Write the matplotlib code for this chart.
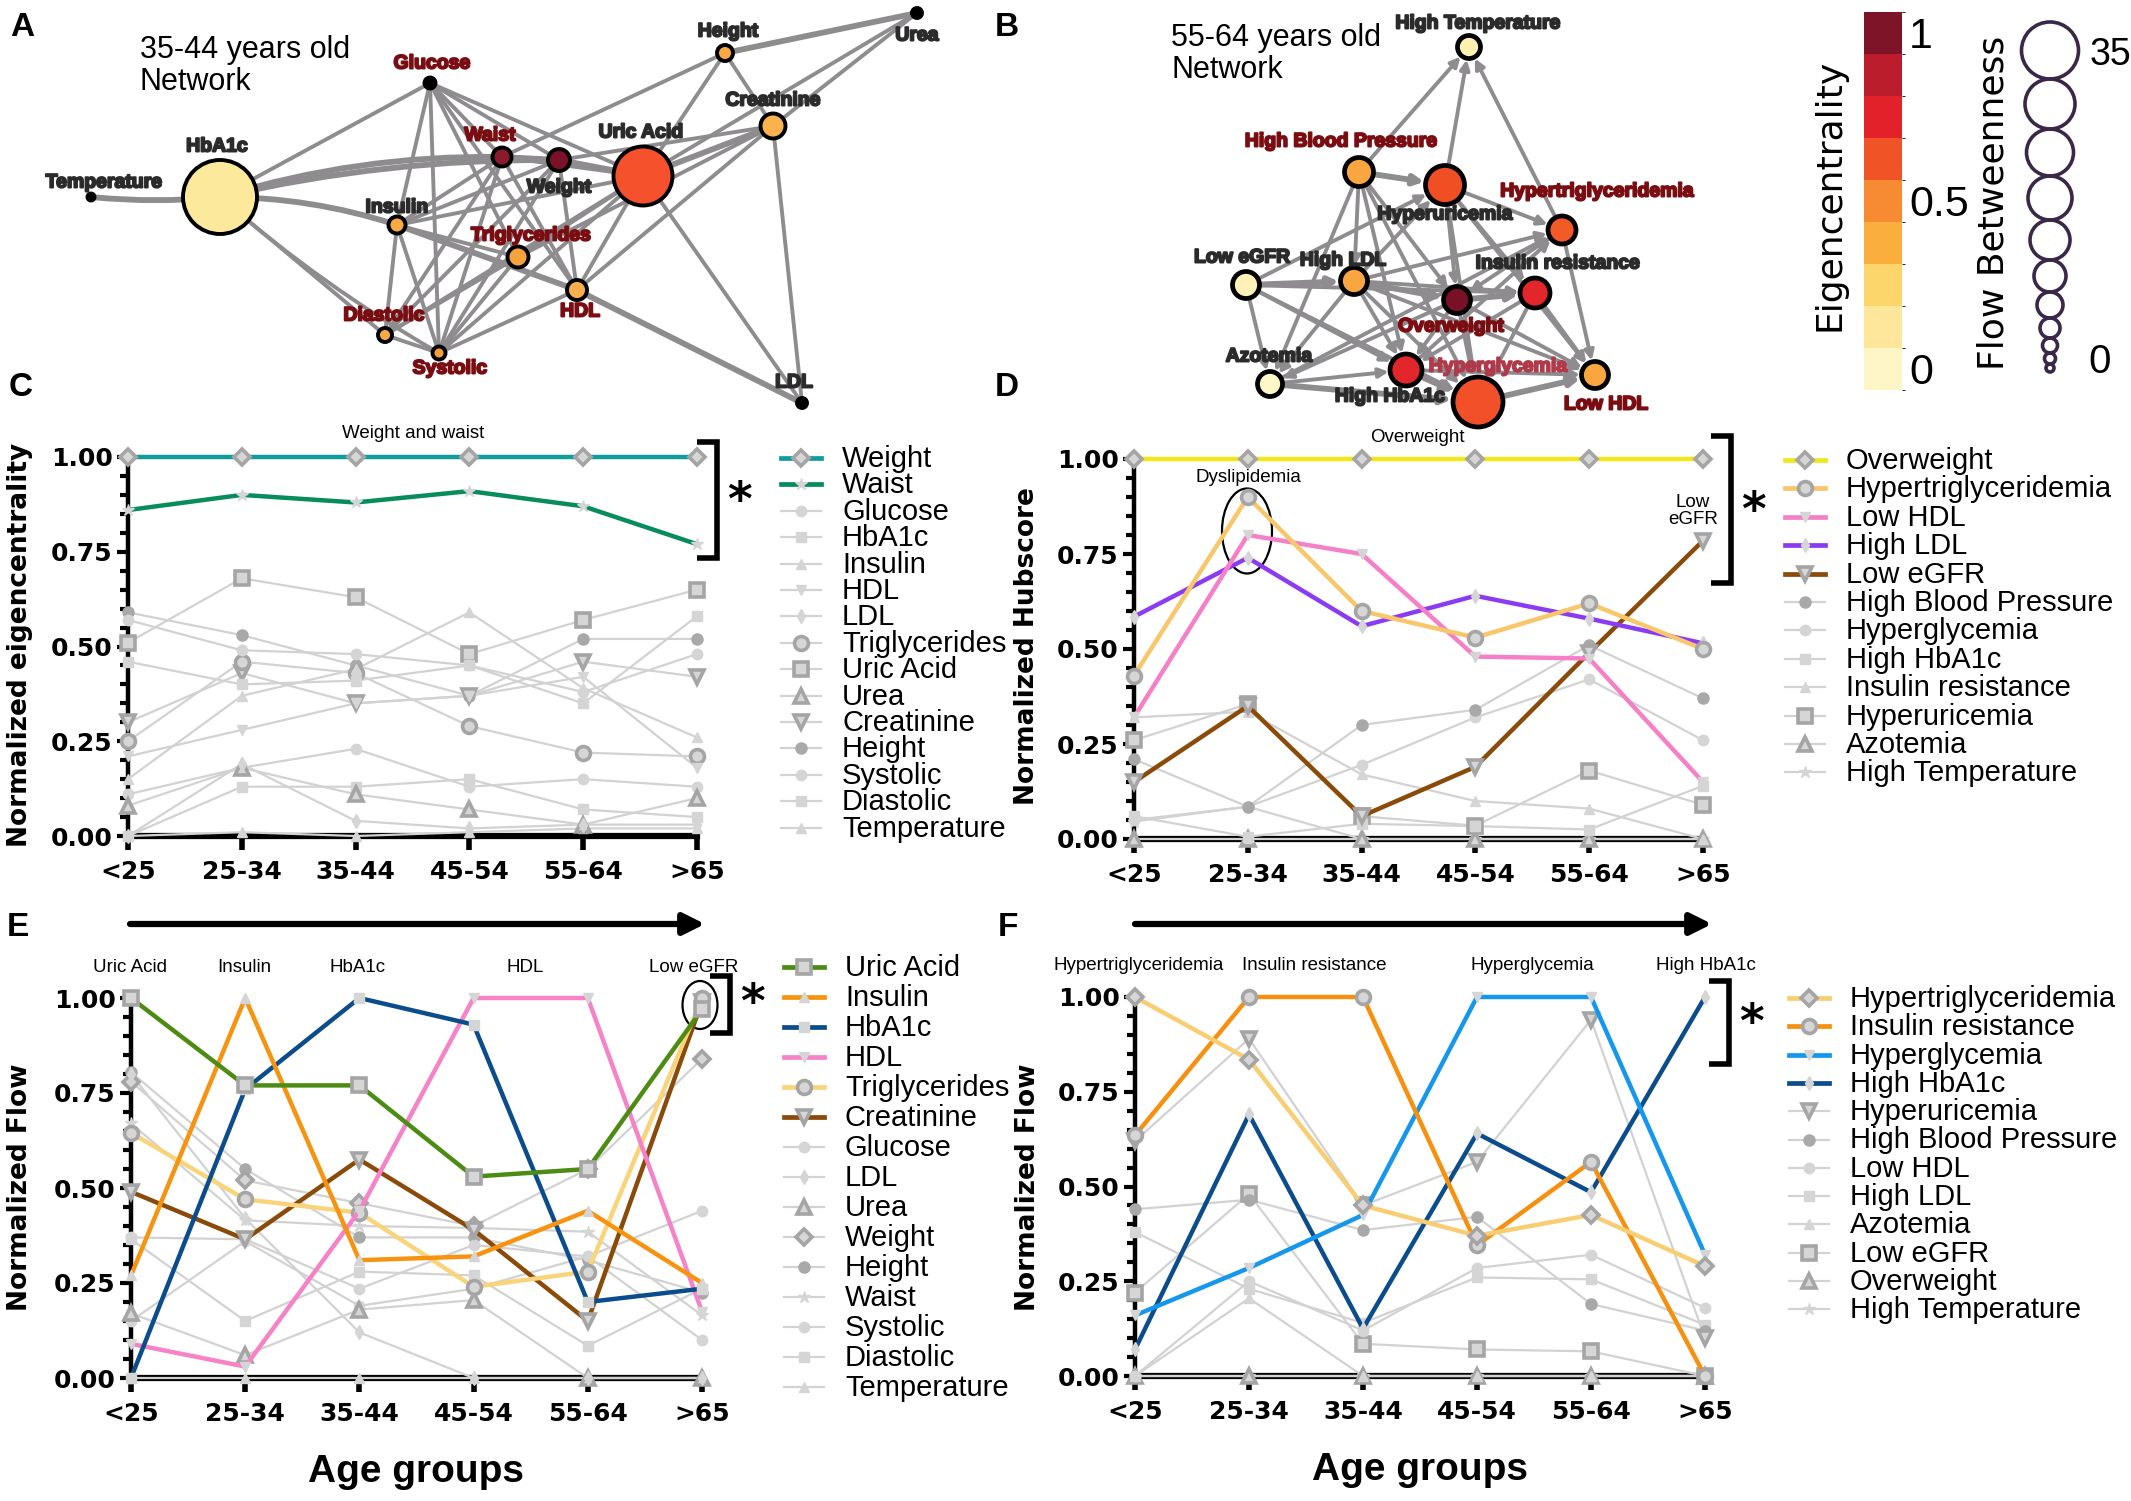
import numpy as np
import matplotlib
matplotlib.use("Agg")
import matplotlib.pyplot as plt
from matplotlib.patches import Ellipse, Circle, FancyArrowPatch
from matplotlib.colors import ListedColormap, BoundaryNorm
from matplotlib.cm import ScalarMappable
from matplotlib.ticker import MultipleLocator
import matplotlib.patheffects as pe

W, H = 2131, 1501
age_groups = ["<25", "25-34", "35-44", "45-54", "55-64", ">65"]

# ---------------- panel C : normalized eigencentrality (35-44 network variables)
c_names = ["Weight", "Waist", "Glucose", "HbA1c", "Insulin", "HDL", "LDL", "Triglycerides",
           "Uric Acid", "Urea", "Creatinine", "Height", "Systolic", "Diastolic", "Temperature"]
c_vals = [
    [1.00, 1.00, 1.00, 1.00, 1.00, 1.00],
    [0.86, 0.90, 0.88, 0.91, 0.87, 0.77],
    [0.57, 0.49, 0.48, 0.45, 0.38, 0.48],
    [0.46, 0.40, 0.41, 0.45, 0.35, 0.58],
    [0.15, 0.37, 0.44, 0.59, 0.39, 0.26],
    [0.21, 0.28, 0.35, 0.37, 0.42, 0.18],
    [0.00, 0.19, 0.04, 0.02, 0.03, 0.03],
    [0.25, 0.46, 0.43, 0.29, 0.22, 0.21],
    [0.51, 0.68, 0.63, 0.48, 0.57, 0.65],
    [0.08, 0.18, 0.11, 0.07, 0.03, 0.10],
    [0.30, 0.43, 0.35, 0.37, 0.46, 0.42],
    [0.59, 0.53, 0.45, 0.37, 0.52, 0.52],
    [0.11, 0.18, 0.23, 0.13, 0.15, 0.13],
    [0.00, 0.13, 0.13, 0.15, 0.07, 0.05],
    [0.00, 0.01, 0.00, 0.01, 0.02, 0.02],
]
c_colors = ["#119c9c", "#078c5c"]
c_markers = [("D", "dark"), ("*", "light"), ("o", "light"), ("s", "light"), ("^", "light"),
             ("v", "light"), ("d", "light"), ("o", "dark"), ("s", "dark"), ("^", "dark"),
             ("v", "dark"), ("o", "filled"), ("o", "light"), ("s", "light"), ("^", "light")]

# ---------------- panel D : normalized hubscore (55-64 network variables)
d_names = ["Overweight", "Hypertriglyceridemia", "Low HDL", "High LDL", "Low eGFR",
           "High Blood Pressure", "Hyperglycemia", "High HbA1c", "Insulin resistance",
           "Hyperuricemia", "Azotemia", "High Temperature"]
d_vals = [
    [1.00, 1.00, 1.00, 1.00, 1.00, 1.00],
    [0.43, 0.90, 0.60, 0.53, 0.62, 0.50],
    [0.32, 0.80, 0.75, 0.48, 0.475, 0.15],
    [0.585, 0.74, 0.56, 0.64, 0.58, 0.515],
    [0.15, 0.35, 0.06, 0.19, 0.49, 0.785],
    [0.21, 0.085, 0.30, 0.34, 0.51, 0.37],
    [0.05, 0.085, 0.195, 0.32, 0.42, 0.26],
    [0.06, 0.006, 0.04, 0.034, 0.025, 0.14],
    [0.32, 0.335, 0.17, 0.10, 0.08, 0.00],
    [0.26, 0.355, 0.06, 0.035, 0.18, 0.09],
    [0.00, 0.00, 0.00, 0.00, 0.00, 0.00],
    [0.046, 0.085, 0.00, 0.00, 0.00, 0.00],
]
d_colors = ["#f3e61b", "#f9c66a", "#f680c8", "#8b3cf2", "#8a4a08"]
d_markers = [("D", "dark"), ("o", "dark"), ("v", "light"), ("d", "light"), ("v", "dark"),
             ("o", "filled"), ("o", "light"), ("s", "light"), ("^", "light"), ("s", "dark"),
             ("^", "dark"), ("*", "light")]

# ---------------- panel E : normalized flow (continuous variables)
e_names = ["Uric Acid", "Insulin", "HbA1c", "HDL", "Triglycerides", "Creatinine", "Glucose",
           "LDL", "Urea", "Weight", "Height", "Waist", "Systolic", "Diastolic", "Temperature"]
e_vals = [
    [1.00, 0.77, 0.77, 0.53, 0.55, 0.97],
    [0.27, 1.00, 0.31, 0.32, 0.44, 0.25],
    [0.00, 0.76, 1.00, 0.93, 0.20, 0.235],
    [0.09, 0.03, 0.44, 1.00, 1.00, 0.175],
    [0.645, 0.47, 0.435, 0.24, 0.28, 1.00],
    [0.49, 0.365, 0.575, 0.39, 0.15, 0.99],
    [0.37, 0.365, 0.235, 0.35, 0.32, 0.44],
    [0.80, 0.42, 0.12, 0.00, 0.00, 0.00],
    [0.17, 0.06, 0.18, 0.205, 0.00, 0.00],
    [0.78, 0.52, 0.46, 0.40, 0.55, 0.84],
    [0.805, 0.55, 0.37, 0.37, 0.31, 0.225],
    [0.67, 0.415, 0.40, 0.395, 0.385, 0.165],
    [0.15, 0.36, 0.19, 0.235, 0.32, 0.10],
    [0.365, 0.15, 0.28, 0.27, 0.085, 0.235],
    [0.00, 0.00, 0.00, 0.00, 0.00, 0.00],
]
e_colors = ["#4d8c13", "#f7930f", "#0b4d8c", "#f682c8", "#fad47a", "#8a4a0a"]
e_markers = [("s", "dark"), ("^", "light"), ("s", "light"), ("v", "light"), ("o", "dark"),
             ("v", "dark"), ("o", "light"), ("d", "light"), ("^", "dark"), ("D", "dark"),
             ("o", "filled"), ("*", "light"), ("o", "light"), ("s", "light"), ("^", "light")]

# ---------------- panel F : normalized flow (categorical variables)
f_names = ["Hypertriglyceridemia", "Insulin resistance", "Hyperglycemia", "High HbA1c",
           "Hyperuricemia", "High Blood Pressure", "Low HDL", "High LDL", "Azotemia",
           "Low eGFR", "Overweight", "High Temperature"]
f_vals = [
    [1.00, 0.835, 0.45, 0.37, 0.425, 0.29],
    [0.635, 1.00, 1.00, 0.345, 0.565, 0.00],
    [0.16, 0.285, 0.425, 1.00, 1.00, 0.32],
    [0.07, 0.69, 0.125, 0.64, 0.485, 1.00],
    [0.62, 0.89, 0.45, 0.565, 0.94, 0.10],
    [0.44, 0.465, 0.385, 0.42, 0.19, 0.12],
    [0.00, 0.25, 0.12, 0.285, 0.32, 0.18],
    [0.38, 0.23, 0.14, 0.26, 0.255, 0.135],
    [0.00, 0.205, 0.00, 0.00, 0.00, 0.00],
    [0.22, 0.48, 0.085, 0.07, 0.065, 0.00],
    [0.00, 0.00, 0.00, 0.00, 0.00, 0.00],
    [0.00, 0.00, 0.00, 0.00, 0.00, 0.00],
]
f_colors = ["#f9cd72", "#f7900f", "#1597ee", "#0b4d8c"]
f_markers = [("D", "dark"), ("o", "dark"), ("v", "light"), ("d", "light"), ("v", "dark"),
             ("o", "filled"), ("o", "light"), ("s", "light"), ("^", "light"), ("s", "dark"),
             ("^", "dark"), ("*", "light")]

# ---------------- network A (35-44 years), pixel layout of the drawing
a_nodes = ["Temperature", "HbA1c", "Glucose", "Waist", "Weight", "Uric Acid", "Height", "Urea",
           "Creatinine", "Insulin", "Triglycerides", "HDL", "Diastolic", "Systolic", "LDL"]
a_x = [91, 220, 430, 502, 559, 643, 725, 917, 773, 397, 518, 577, 385, 439, 802]
a_y = [197, 197, 83, 157, 160, 176, 53, 13, 126, 225, 257, 290, 335, 353, 403]
a_r = [3.5, 37, 5.5, 9.5, 11, 29.5, 8, 5, 12.5, 8.5, 10.5, 10, 7, 6.5, 5]
a_col = ["#000000", "#fde99b", "#000000", "#8c1a2e", "#7b1029", "#f4512c", "#f8a942", "#000000",
         "#f9b24d", "#f8aa42", "#f8a23f", "#f9b04a", "#f8aa42", "#f6a03a", "#000000"]
a_lx = [104, 217, 432, 490, 559, 641, 728, 917, 773, 397, 531, 580, 384, 450, 794]
a_ly = [183, 147, 64, 136, 188, 133, 32, 36, 101, 208, 236, 312, 316, 369, 383]
a_red = ["Glucose", "Waist", "Triglycerides", "Diastolic", "HDL", "Systolic"]
a_edges = [("Temperature", "HbA1c", 2, 0.05), ("HbA1c", "Glucose", 1, 0), ("HbA1c", "Waist", 2, -0.08),
           ("HbA1c", "Weight", 2, -0.06), ("HbA1c", "Insulin", 2, -0.08), ("HbA1c", "Diastolic", 1, 0),
           ("HbA1c", "Systolic", 1, 0.05), ("Glucose", "Insulin", 1, 0), ("Glucose", "Weight", 1, 0),
           ("Glucose", "Uric Acid", 1, 0), ("Glucose", "Triglycerides", 1, 0), ("Glucose", "HDL", 1, 0),
           ("Glucose", "Systolic", 1, 0), ("Glucose", "Waist", 1, 0), ("Waist", "Weight", 2, 0),
           ("Waist", "Height", 1, 0), ("Waist", "Systolic", 1, 0), ("Waist", "Diastolic", 1, 0),
           ("Waist", "HDL", 1, 0), ("Waist", "Insulin", 1, 0), ("Waist", "Uric Acid", 1, 0),
           ("Weight", "Uric Acid", 2, 0), ("Weight", "Insulin", 1, 0), ("Weight", "Diastolic", 1, 0),
           ("Weight", "Systolic", 1, 0), ("Weight", "HDL", 1, 0), ("Weight", "Creatinine", 1, 0),
           ("Uric Acid", "Height", 1, 0), ("Uric Acid", "Creatinine", 2, 0), ("Uric Acid", "Urea", 1, 0),
           ("Uric Acid", "Triglycerides", 1, 0), ("Uric Acid", "HDL", 1, 0), ("Uric Acid", "Diastolic", 1, 0),
           ("Uric Acid", "Systolic", 1, 0), ("Uric Acid", "LDL", 1, 0), ("Uric Acid", "Insulin", 1, 0),
           ("Height", "Urea", 2, 0), ("Height", "Creatinine", 1, 0), ("Creatinine", "Urea", 1, 0),
           ("Creatinine", "LDL", 1, 0), ("Creatinine", "Triglycerides", 1, 0), ("Creatinine", "HDL", 1, 0),
           ("Insulin", "Diastolic", 1, 0), ("Insulin", "Systolic", 1, 0), ("Insulin", "HDL", 2, 0),
           ("Insulin", "Triglycerides", 1, 0), ("Triglycerides", "Systolic", 1, 0),
           ("Triglycerides", "Diastolic", 1, 0), ("HDL", "LDL", 2, 0), ("HDL", "Systolic", 1, 0),
           ("Diastolic", "Systolic", 1, 0)]

# ---------------- network B (55-64 years)
b_nodes = ["High Temperature", "High Blood Pressure", "Hyperuricemia", "Hypertriglyceridemia",
           "Low eGFR", "High LDL", "Overweight", "Insulin resistance", "Azotemia", "Hyperglycemia",
           "High HbA1c", "Low HDL"]
b_x = [1469, 1359, 1445, 1562, 1246, 1354, 1457, 1535, 1270, 1406, 1478, 1595]
b_y = [47, 172, 185, 230, 285, 281, 300, 293, 384, 370, 402, 375]
b_r = [11.5, 14.5, 19.5, 14, 13.5, 13.5, 13.5, 15, 12.5, 16, 25, 13.5]
b_col = ["#fff2b0", "#f9a640", "#f04e23", "#f25a27", "#fff2b8", "#f9a640", "#7a1028", "#e3262a",
         "#fef7c8", "#e3262a", "#f25028", "#f9a640"]
b_lx = [1478, 1341, 1445, 1597, 1242, 1343, 1451, 1558, 1269, 1498, 1390, 1606]
b_ly = [24, 142, 215, 192, 258, 261, 327, 264, 357, 367, 397, 405]
b_red = ["High Blood Pressure", "Hypertriglyceridemia", "Overweight", "Low HDL"]
b_edges = [("High Blood Pressure", "High Temperature", 1), ("Hyperuricemia", "High Temperature", 1),
           ("Hypertriglyceridemia", "High Temperature", 1), ("High Blood Pressure", "Hyperuricemia", 2),
           ("High Blood Pressure", "High LDL", 1), ("High Blood Pressure", "Overweight", 1),
           ("High Blood Pressure", "Hyperglycemia", 1), ("High Blood Pressure", "High HbA1c", 1),
           ("High Blood Pressure", "Azotemia", 1), ("Hyperuricemia", "Hypertriglyceridemia", 1),
           ("Hyperuricemia", "Insulin resistance", 1), ("Hyperuricemia", "High HbA1c", 1),
           ("Hyperuricemia", "Low HDL", 1), ("Hyperuricemia", "Overweight", 1),
           ("Low eGFR", "Hyperuricemia", 1), ("High LDL", "Hyperuricemia", 1),
           ("Hypertriglyceridemia", "Low HDL", 1), ("Hypertriglyceridemia", "Overweight", 1),
           ("High LDL", "Hypertriglyceridemia", 1), ("Hyperglycemia", "Hypertriglyceridemia", 1),
           ("Azotemia", "Hypertriglyceridemia", 1), ("Low eGFR", "High LDL", 2),
           ("Low eGFR", "Azotemia", 1), ("Low eGFR", "Hyperglycemia", 1), ("Low eGFR", "High HbA1c", 1),
           ("Low eGFR", "Insulin resistance", 1), ("High LDL", "Overweight", 2),
           ("High LDL", "Insulin resistance", 1), ("High LDL", "Hyperglycemia", 1),
           ("High LDL", "High HbA1c", 1), ("High LDL", "Low HDL", 1), ("High LDL", "Azotemia", 1),
           ("Overweight", "Insulin resistance", 2), ("Overweight", "Hyperglycemia", 1),
           ("Overweight", "High HbA1c", 1), ("Overweight", "Low HDL", 1), ("Overweight", "Azotemia", 1),
           ("Insulin resistance", "Hyperglycemia", 1), ("Insulin resistance", "High HbA1c", 1),
           ("Insulin resistance", "Low HDL", 1), ("Azotemia", "High HbA1c", 2),
           ("Azotemia", "Hyperglycemia", 1), ("Hyperglycemia", "High HbA1c", 2),
           ("Hyperglycemia", "Low HDL", 1), ("High HbA1c", "Low HDL", 2)]

eig_colors = ["#fff6c8", "#fee79a", "#fdd66b", "#f9ae3e", "#f68b33", "#f05426", "#e3212a",
              "#bb1d2c", "#7d1428"]
flow_radii = [28.5, 25, 23.5, 22, 20, 16, 13, 10, 7.5, 5.5, 4]

SANS = ["Liberation Sans", "DejaVu Sans"]
EDGE = "#8e8c8f"
GREY = "#d2d2d2"


def mstyle(marker, kind):
    st = {"dark": dict(mfc="#d6d6d6", mec="#a5a5a5", mew=2.6, ms=10),
          "filled": dict(mfc="#a9a9a9", mec="#a9a9a9", mew=1, ms=8),
          "light": dict(mfc="#d5d5d5", mec="#d5d5d5", mew=1, ms=7.5)}[kind].copy()
    if marker == "D":
        st["ms"] = 8.5
    if marker == "*":
        st["ms"] = 9
    if marker == "d":
        st["ms"] = 7.5
    return st


fig = plt.figure(figsize=(W / 100, H / 100), dpi=100)
ov = fig.add_axes([0, 0, 1, 1])
ov.set_xlim(0, W)
ov.set_ylim(H, 0)
ov.axis("off")


def px_axes(left, top, right, bottom):
    return fig.add_axes([left / W, 1 - bottom / H, (right - left) / W, (bottom - top) / H])


def draw_lines(ax, names, vals, colors, markers):
    x = np.arange(len(age_groups))
    n_hi = len(colors)
    for i in reversed(range(len(names))):
        hi = i < n_hi
        col = colors[i] if hi else GREY
        z = 6 + (n_hi - i) if hi else 3
        ax.plot(x, vals[i], color=col, lw=3.2 if hi else 1.6, zorder=z, clip_on=False)
        m, kind = markers[i]
        ax.plot(x, vals[i], ls="none", marker=m, zorder=z + 0.5, clip_on=False, **mstyle(m, kind))
    ax.set_xlim(0, 5)
    ax.set_ylim(0, 1)
    ax.patch.set_visible(False)
    for s in ["top", "right"]:
        ax.spines[s].set_visible(False)
    ax.spines["left"].set_linewidth(3.2)
    ax.spines["bottom"].set_linewidth(4.5)
    ax.set_xticks(x)
    ax.set_xticklabels(age_groups, fontsize=18, fontweight="bold", family="DejaVu Sans")
    ax.set_yticks([0, 0.25, 0.5, 0.75, 1.0])
    ax.set_yticklabels(["0.00", "0.25", "0.50", "0.75", "1.00"], fontsize=18,
                       fontweight="bold", family="DejaVu Sans")
    ax.yaxis.set_minor_locator(MultipleLocator(0.05))
    ax.tick_params(axis="y", which="major", length=8, width=3, pad=3)
    ax.tick_params(axis="y", which="minor", length=6, width=3)
    ax.tick_params(axis="x", length=10, width=4, pad=7)


def draw_legend(names, colors, markers, hx, y0, dy):
    n_hi = len(colors)
    for i, name in enumerate(names):
        y = y0 + i * dy
        hi = i < n_hi
        ov.plot([hx, hx + 40], [y, y], color=colors[i] if hi else GREY, lw=3.4 if hi else 1.6)
        m, kind = markers[i]
        ov.plot([hx + 20], [y], marker=m, ls="none", **mstyle(m, kind))
        ov.text(hx + 61, y + 1, name, fontsize=21, family=SANS, va="center", ha="left")


def bracket(x, top, bottom, star_y):
    ov.plot([x - 20, x, x, x - 20], [top, top, bottom, bottom], color="k", lw=4,
            solid_joinstyle="miter", solid_capstyle="butt")
    ov.text(x + 22, star_y, "*", fontsize=34, fontweight="bold", ha="center", va="center",
            family="DejaVu Sans")


# ---------------- network A
pos_a = {n: (a_x[i], a_y[i], a_r[i]) for i, n in enumerate(a_nodes)}
for s, t, w, rad in a_edges:
    xs, ys, rs = pos_a[s]
    xt, yt, rt = pos_a[t]
    ov.add_patch(FancyArrowPatch((xs, ys), (xt, yt), arrowstyle="-",
                                 connectionstyle=f"arc3,rad={rad}", color=EDGE,
                                 lw=4.2 if w == 2 else 2.8, zorder=2))
for i, n in enumerate(a_nodes):
    ov.add_patch(Circle((a_x[i], a_y[i]), a_r[i], facecolor=a_col[i], edgecolor="k",
                        lw=2.8, zorder=3))
    c = "#7a0d12" if n in a_red else "#2b2b2b"
    ov.text(a_lx[i], a_ly[i], n, fontsize=14, fontweight="bold", family=SANS, color=c,
            ha="center", va="center", zorder=4,
            path_effects=[pe.withStroke(linewidth=1.4, foreground=c)])
ov.text(140, 50, "35-44 years old", fontsize=22, family=SANS, va="center")
ov.text(140, 82, "Network", fontsize=22, family=SANS, va="center")

# ---------------- network B
pos_b = {n: (b_x[i], b_y[i], b_r[i]) for i, n in enumerate(b_nodes)}
for s, t, w in b_edges:
    xs, ys, rs = pos_b[s]
    xt, yt, rt = pos_b[t]
    ov.add_patch(FancyArrowPatch((xs, ys), (xt, yt), arrowstyle="-|>", mutation_scale=14,
                                 shrinkA=rs * 0.72, shrinkB=rt * 0.72 + 1, color=EDGE,
                                 lw=4.2 if w == 2 else 2.8, zorder=2))
for i, n in enumerate(b_nodes):
    ov.add_patch(Circle((b_x[i], b_y[i]), b_r[i], facecolor=b_col[i], edgecolor="k",
                        lw=3.4, zorder=3))
    if n == "Hyperglycemia":
        c = "#b0394a"
    elif n in b_red:
        c = "#7a0d12"
    else:
        c = "#2b2b2b"
    ov.text(b_lx[i], b_ly[i], n, fontsize=14, fontweight="bold", family=SANS, color=c,
            ha="center", va="center", zorder=4,
            path_effects=[pe.withStroke(linewidth=1.4, foreground=c)])
ov.text(1171, 38, "55-64 years old", fontsize=22, family=SANS, va="center")
ov.text(1171, 70, "Network", fontsize=22, family=SANS, va="center")

# ---------------- eigencentrality colour scale
cax = px_axes(1864, 12, 1902, 390)
bounds = np.linspace(-0.0625, 1.0625, len(eig_colors) + 1)
sm = ScalarMappable(norm=BoundaryNorm(bounds, len(eig_colors)), cmap=ListedColormap(eig_colors))
cb = fig.colorbar(sm, cax=cax, ticks=[0, 0.5, 1])
cb.outline.set_visible(False)
cb.ax.set_yticklabels(["0", "0.5", "1"], fontsize=31, family=SANS)
cb.ax.tick_params(length=0, pad=5)
ov.text(1830, 195, "Eigencentrality", rotation=90, fontsize=26, family="DejaVu Sans",
        ha="center", va="center")
ov.text(1994, 203, "Flow Betweenness", rotation=90, fontsize=26, family="DejaVu Sans",
        ha="center", va="center")
yc = 22
for r in flow_radii:
    yc += r
    ov.add_patch(Circle((2050, yc), r, facecolor="none", edgecolor="#3b2748", lw=2.6))
    yc += r
ov.text(2090, 55, "35", fontsize=27, family=SANS, va="center", ha="left")
ov.text(2088, 362, "0", fontsize=29, family=SANS, va="center", ha="left")

# ---------------- line panels
ax_c = px_axes(128, 457, 697, 836)
draw_lines(ax_c, c_names, c_vals, c_colors, c_markers)
ax_d = px_axes(1134, 459, 1703, 839)
draw_lines(ax_d, d_names, d_vals, d_colors, d_markers)
ax_e = px_axes(131, 998, 702, 1378)
draw_lines(ax_e, e_names, e_vals, e_colors, e_markers)
ax_f = px_axes(1135, 997, 1705, 1376)
draw_lines(ax_f, f_names, f_vals, f_colors, f_markers)

draw_legend(c_names, c_colors, c_markers, 781, 458, 26.4)
draw_legend(d_names, d_colors, d_markers, 1785, 460, 28.4)
draw_legend(e_names, e_colors, e_markers, 784, 967, 30.0)
draw_legend(f_names, f_colors, f_markers, 1789, 998, 28.3)

# y labels and x labels
ov.text(20, 645, "Normalized eigencentrality", rotation=90, fontsize=19, fontweight="bold",
        family="DejaVu Sans", ha="center", va="center")
ov.text(1027, 646, "Normalized Hubscore", rotation=90, fontsize=19, fontweight="bold",
        family="DejaVu Sans", ha="center", va="center")
ov.text(20, 1187, "Normalized Flow", rotation=90, fontsize=19, fontweight="bold",
        family="DejaVu Sans", ha="center", va="center")
ov.text(1028, 1187, "Normalized Flow", rotation=90, fontsize=19, fontweight="bold",
        family="DejaVu Sans", ha="center", va="center")
ov.text(416, 1472, "Age groups", fontsize=28, fontweight="bold", family=SANS, ha="center", va="center")
ov.text(1420, 1470, "Age groups", fontsize=28, fontweight="bold", family=SANS, ha="center", va="center")

# age arrows
for x0, x1 in [(130, 705), (1135, 1712)]:
    ov.annotate("", xy=(x1, 924), xytext=(x0, 924),
                arrowprops=dict(arrowstyle="-|>", lw=4.5, color="k", mutation_scale=32,
                                shrinkA=0, shrinkB=0))

# annotations
ov.text(413, 433, "Weight and waist", fontsize=13.5, family=SANS, ha="center", va="center")
bracket(717, 442, 558, 502)
ov.text(1417, 437, "Overweight", fontsize=13.5, family=SANS, ha="center", va="center")
ov.text(1248, 477, "Dyslipidemia", fontsize=13.5, family=SANS, ha="center", va="center")
ov.add_patch(Ellipse((1247, 531), 50, 85, facecolor="none", edgecolor="k", lw=1.6, zorder=20))
ov.text(1693, 511, "Low\neGFR", fontsize=13.5, family=SANS, ha="center", va="center",
        linespacing=1.0)
bracket(1731, 436, 583, 512)
for name, xx in [("Uric Acid", 130), ("Insulin", 244), ("HbA1c", 358), ("HDL", 525),
                 ("Low eGFR", 694)]:
    ov.text(xx, 968, name, fontsize=13.5, family=SANS, ha="center", va="center")
ov.add_patch(Ellipse((700, 1005), 35, 48, facecolor="none", edgecolor="k", lw=1.6, zorder=20))
bracket(730, 976, 1033, 1005)
for name, xx in [("Hypertriglyceridemia", 1139), ("Insulin resistance", 1314),
                 ("Hyperglycemia", 1532), ("High HbA1c", 1706)]:
    ov.text(xx, 965, name, fontsize=13.5, family=SANS, ha="center", va="center")
bracket(1729, 981, 1064, 1024)

# panel letters
for lab, xx, yy in [("A", 22, 27), ("B", 1007, 27), ("C", 21, 387), ("D", 1007, 387),
                    ("E", 18, 928), ("F", 1008, 928)]:
    ov.text(xx, yy, lab, fontsize=24, fontweight="bold", family=SANS, ha="center", va="center")

fig.savefig("out.png", dpi=100)
